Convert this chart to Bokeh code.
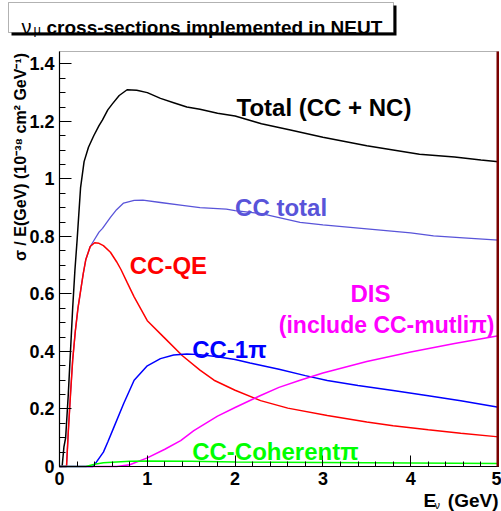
import math
import numpy as np
from bokeh.plotting import figure
from bokeh.models import (Range1d, FixedTicker, CustomJSTickFormatter, Label,
                          BoxAnnotation)
from bokeh.embed import file_html
from bokeh.resources import INLINE

# Neutrino energy (GeV) and sigma/E (1e-38 cm^2 / GeV) for each channel
e_total = [0.0, 0.03, 0.05, 0.07, 0.10, 0.125, 0.15, 0.175, 0.20, 0.24, 0.28, 0.33,
           0.39, 0.45, 0.49, 0.55, 0.60, 0.68, 0.77, 0.88, 1.0, 1.15, 1.3, 1.45,
           1.6, 1.8, 2.0, 2.3, 2.63, 3.0, 3.5, 4.1, 4.5, 4.8, 5.0]
xs_total = [0.0, 0.0, 0.067, 0.10, 0.25, 0.40, 0.55, 0.68, 0.785, 0.97, 1.06, 1.11,
            1.15, 1.185, 1.205, 1.24, 1.26, 1.29, 1.31, 1.308, 1.30, 1.28, 1.265, 1.25,
            1.242, 1.228, 1.219, 1.192, 1.17, 1.145, 1.115, 1.086, 1.076, 1.066, 1.06]

e_cc = [0.0, 0.08, 0.10, 0.125, 0.15, 0.18, 0.21, 0.24, 0.27, 0.30, 0.35, 0.39,
        0.45, 0.49, 0.58, 0.65, 0.73, 0.85, 0.95, 1.15, 1.4, 1.6, 1.9, 2.0, 2.3,
        2.74, 3.0, 3.5, 4.0, 4.26, 4.6, 5.0]
xs_cc = [0.0, 0.0, 0.12, 0.25, 0.37, 0.47, 0.55, 0.61, 0.67, 0.72, 0.765, 0.785,
         0.815, 0.828, 0.866, 0.893, 0.916, 0.925, 0.926, 0.918, 0.908, 0.90, 0.895,
         0.89, 0.879, 0.849, 0.84, 0.826, 0.812, 0.802, 0.795, 0.787]

e_qe = [0.0, 0.08, 0.10, 0.125, 0.15, 0.18, 0.21, 0.24, 0.27, 0.30, 0.35, 0.40,
        0.45, 0.50, 0.58, 0.65, 0.70, 0.77, 0.85, 1.0, 1.19, 1.4, 1.6, 1.76, 2.0,
        2.29, 2.6, 3.05, 3.5, 3.8, 4.2, 4.57, 5.0]
xs_qe = [0.0, 0.0, 0.12, 0.25, 0.37, 0.47, 0.55, 0.61, 0.67, 0.72, 0.765, 0.778,
         0.776, 0.768, 0.745, 0.712, 0.685, 0.64, 0.59, 0.507, 0.449, 0.385, 0.335,
         0.30, 0.265, 0.229, 0.203, 0.177, 0.155, 0.142, 0.128, 0.116, 0.103]

e_1pi = [0.0, 0.38, 0.42, 0.5, 0.55, 0.62, 0.73, 0.85, 1.0, 1.15, 1.3, 1.45, 1.6,
         1.8, 2.0, 2.17, 2.5, 2.8, 3.05, 3.4, 3.8, 4.2, 4.57, 5.0]
xs_1pi = [0.0, 0.0, 0.015, 0.05, 0.085, 0.137, 0.218, 0.30, 0.35, 0.375, 0.388,
          0.391, 0.389, 0.382, 0.372, 0.36, 0.338, 0.316, 0.299, 0.282, 0.264,
          0.246, 0.229, 0.206]

e_dis = [0.0, 0.65, 0.8, 1.0, 1.2, 1.38, 1.53, 1.8, 2.0, 2.29, 2.5, 2.74, 3.0,
         3.5, 4.0, 4.5, 5.0]
xs_dis = [0.0, 0.0, 0.006, 0.03, 0.06, 0.09, 0.125, 0.175, 0.205, 0.247, 0.275,
          0.30, 0.325, 0.365, 0.398, 0.428, 0.455]

e_coh = [0.0, 0.3, 0.4, 0.5, 0.6, 0.8, 1.0, 1.5, 2.0, 3.0, 4.0, 5.0]
xs_coh = [0.0, 0.0, 0.008, 0.013, 0.015, 0.018, 0.019, 0.018, 0.016, 0.014,
          0.012, 0.01]

x_ticks = [0, 1, 2, 3, 4, 5]
y_ticks = [0, 0.2, 0.4, 0.6, 0.8, 1.0, 1.2, 1.4]

FONT = "Liberation Sans"
C_TOTAL, C_CC, C_QE, C_1PI, C_DIS, C_COH = ("black", "#5954d9", "#ff0000",
                                            "#0000ff", "#ff00ff", "#00ff00")

# Canvas geometry: the data box occupies pixels 59..498 (x) and 51..466 (y);
# the plotting frame covers the whole canvas so that titles can sit around it.
W, H = 501, 511
BOX_L, BOX_R, BOX_T, BOX_B = 59, 498, 51, 466
X_MAX, Y_MAX = 5.0, 1.443
kx = (BOX_R - BOX_L) / X_MAX
ky = (BOX_B - BOX_T) / Y_MAX

p = figure(width=W, height=H, output_backend="svg", toolbar_location=None,
           x_range=Range1d(-BOX_L / kx, (W - BOX_L) / kx),
           y_range=Range1d(-(H - BOX_B) / ky, BOX_B / ky),
           min_border_left=0, min_border_right=0, min_border_top=0,
           min_border_bottom=0)
p.grid.visible = False
p.background_fill_color = "white"
p.border_fill_color = "white"
p.outline_line_color = None

# axes drawn along the data box edges, ticks pointing inwards
p.xaxis.fixed_location = 0
p.yaxis.fixed_location = 0
p.xaxis.bounds = (0, X_MAX)
p.yaxis.bounds = (0, Y_MAX)
p.xaxis.ticker = FixedTicker(ticks=x_ticks,
                             minor_ticks=list(np.round(np.arange(0, 5.001, 0.2), 3)))
p.yaxis.ticker = FixedTicker(ticks=y_ticks,
                             minor_ticks=list(np.round(np.arange(0, 1.4001, 0.05), 3)))
p.xaxis.formatter = CustomJSTickFormatter(code="return Math.round(tick).toString();")
p.yaxis.formatter = CustomJSTickFormatter(
    code="return (Math.round(tick*10)/10).toString();")
for ax in (p.xaxis, p.yaxis):
    ax.major_tick_out = 0
    ax.minor_tick_out = 0
    ax.axis_line_color = "black"
    ax.axis_line_width = 1.2
    ax.major_tick_line_color = "black"
    ax.minor_tick_line_color = "black"
    ax.major_label_text_font = FONT
    ax.major_label_text_font_style = "bold"
    ax.major_label_text_font_size = "18px"
    ax.major_label_text_color = "black"
    ax.major_label_standoff = 5
p.xaxis.major_tick_in = 11
p.xaxis.minor_tick_in = 5
p.yaxis.major_tick_in = 12
p.yaxis.minor_tick_in = 6

# frame of the data box: black, with a dark red right edge
p.add_layout(BoxAnnotation(left=0, right=X_MAX, bottom=0, top=Y_MAX,
                           fill_alpha=0, line_color="black", line_width=1))

# curves
p.line(e_total, xs_total, line_color=C_TOTAL, line_width=1.5)
p.line(e_cc, xs_cc, line_color=C_CC, line_width=1.3)
p.line(e_qe, xs_qe, line_color=C_QE, line_width=1.5)
p.line(e_1pi, xs_1pi, line_color=C_1PI, line_width=1.5)
p.line(e_dis, xs_dis, line_color=C_DIS, line_width=1.5)
p.line(e_coh, xs_coh, line_color=C_COH, line_width=1.5)

p.add_layout(BoxAnnotation(left=X_MAX - 2.0 / kx, right=X_MAX + 0.5 / kx,
                           bottom=0, top=Y_MAX, fill_color="#7a0000",
                           fill_alpha=1.0, line_color=None))

# curve annotations (data coordinates)
def tag(x, y, text, color, size="24px"):
    p.add_layout(Label(x=x, y=y, text=text, text_color=color, text_font=FONT,
                       text_font_style="bold", text_font_size=size,
                       text_align="left", text_baseline="alphabetic"))

tag(2.016, 1.25, "Total (CC + NC)", C_TOTAL)
tag(2.0, 0.90, "CC total", C_CC)
tag(0.80, 0.698, "CC-QE", C_QE)
tag(3.314, 0.602, "DIS", C_DIS)
tag(2.498, 0.493, "(include CC-mutliπ)", C_DIS, size="23px")
tag(1.511, 0.406, "CC-1π", C_1PI)
tag(1.511, 0.053, "CC-Coherentπ", C_COH)

# texts around the data box, placed in canvas pixels (origin top-left)
def scr_label(px, py, text, size, style="bold", align="left", angle=0.0,
              color="black"):
    p.add_layout(Label(x=px, y=H - py, x_units="screen", y_units="screen",
                       text=text, text_font=FONT, text_font_style=style,
                       text_font_size=size, text_align=align, angle=angle,
                       text_baseline="alphabetic", text_color=color))

def scr_box(l, t, r, b, **kw):
    p.add_layout(BoxAnnotation(left=l, right=r, top=H - t, bottom=H - b,
                               left_units="screen", right_units="screen",
                               top_units="screen", bottom_units="screen", **kw))

# title box with drop shadow
scr_box(11, 5, 396, 35, fill_color="black", fill_alpha=1.0, line_color=None)
scr_box(8, 2, 393, 32, fill_color="white", fill_alpha=1.0, line_color="black",
        line_width=1)
scr_label(21, 26, "ν", "20px", style="normal")
scr_label(33, 29, "μ", "13px", style="normal")
scr_label(46, 27, "cross-sections implemented in NEUT", "19px")

# axis titles
scr_label(20, 48, "σ / E(GeV)  (10⁻³⁸ cm² GeV⁻¹)", "16px", align="right",
          angle=math.pi / 2)
scr_label(423, 500, "E", "19px")
scr_label(434, 504, "ν", "11px", style="normal")
scr_label(498, 500, "(GeV)", "19px", align="right")

open("out.html", "w").write(file_html(p, INLINE))
